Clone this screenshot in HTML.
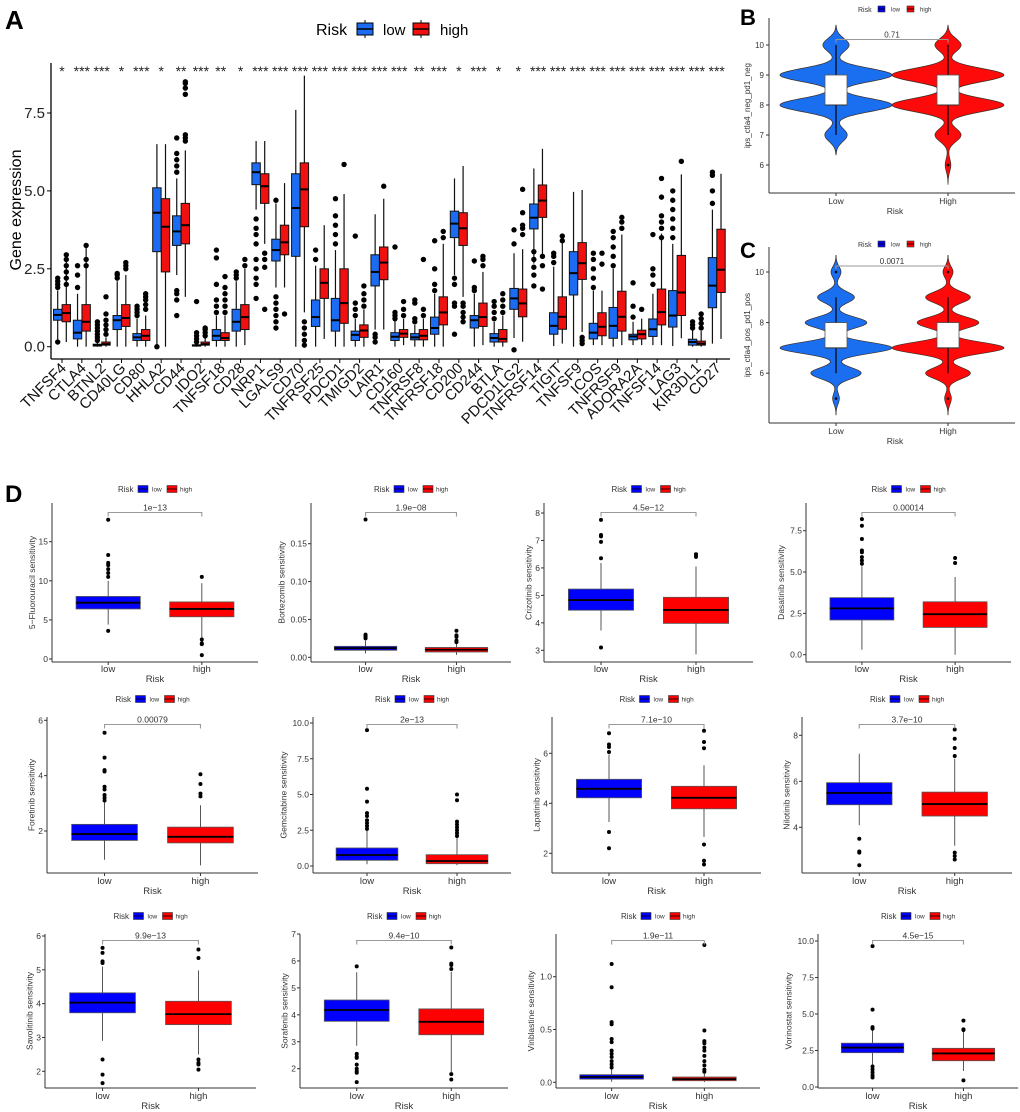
<!DOCTYPE html>
<html><head><meta charset="utf-8"><style>
body{margin:0;background:#fff}
svg{display:block;font-family:"Liberation Sans",Arial,sans-serif}
</style></head><body>
<svg id="fig" width="1020" height="1112" viewBox="0 0 1020 1112" xmlns="http://www.w3.org/2000/svg">
<rect width="1020" height="1112" fill="#fff"/>
<text x="5" y="29" font-size="26" font-weight="bold">A</text>
<text x="740" y="25" font-size="22" font-weight="bold">B</text>
<text x="740" y="258" font-size="22" font-weight="bold">C</text>
<text x="5" y="502" font-size="24" font-weight="bold">D</text>
<g id="pA"></g>
<g id="pB"></g>
<g id="pC"></g>
<g id="pD"></g>
</svg>
<script>
// ---------- Panel A data ----------
const genes=["TNFSF4","CTLA4","BTNL2","CD40LG","CD80","HHLA2","CD44","IDO2","TNFSF18","CD28","NRP1","LGALS9","CD70","TNFRSF25","PDCD1","TMIGD2","LAIR1","CD160","TNFRSF8","TNFRSF18","CD200","CD244","BTLA","PDCD1LG2","TNFRSF14","TIGIT","TNFSF9","ICOS","TNFRSF9","ADORA2A","TNFSF14","LAG3","KIR3DL1","CD27"];
const stars=["*","***","***","*","***","*","**","***","**","*","***","***","***","***","***","***","***","***","**","***","*","***","*","*","***","***","***","***","***","***","***","***","***","***"];
// [q1, median, q3, whiskerLow, whiskerHigh]
const lowBox=[[0.85,1.02,1.2,0.2,1.8],[0.25,0.45,0.85,0,1.7],[0.02,0.05,0.08,0,0.15],[0.55,0.85,1.0,0,2.1],[0.2,0.3,0.42,0,0.9],[3.05,4.3,5.1,0,6.5],[3.25,3.7,4.2,2.3,5.4],[0.02,0.04,0.06,0,0.1],[0.2,0.35,0.55,0,1.0],[0.5,0.8,1.2,0,2.1],[5.2,5.6,5.9,4.4,6.6],[2.75,3.1,3.45,1.9,4.6],[2.9,4.45,5.55,0,7.6],[0.65,0.95,1.5,0,2.6],[0.5,0.85,1.55,0,3.1],[0.2,0.38,0.5,0,0.9],[1.95,2.4,2.95,0.55,4.25],[0.2,0.32,0.45,0,0.85],[0.22,0.3,0.42,0,0.7],[0.4,0.6,0.95,0,1.7],[3.5,3.95,4.35,2.3,5.4],[0.6,0.85,1.0,0,1.7],[0.15,0.28,0.42,0,0.8],[1.2,1.55,1.87,0.28,3.0],[3.78,4.14,4.58,2.67,5.72],[0.4,0.67,1.09,0.02,2.57],[1.66,2.36,3.05,0,4.97],[0.25,0.45,0.75,0.05,1.8],[0.27,0.67,1.26,0,2.5],[0.22,0.33,0.4,0.05,0.8],[0.33,0.56,0.89,0.05,1.7],[0.63,1.0,1.8,0.02,3.3],[0.05,0.15,0.24,0,0.6],[1.25,1.96,2.86,0.1,4.4]];
const highBox=[[0.8,1.08,1.35,0.15,2.8],[0.5,0.8,1.35,0,3.2],[0.05,0.08,0.15,0,0.3],[0.65,0.92,1.35,0,2.3],[0.2,0.35,0.55,0,1.0],[2.4,3.85,4.75,0,6.5],[3.3,3.9,4.6,1.6,6.3],[0.05,0.08,0.15,0,0.3],[0.2,0.28,0.45,0,1.0],[0.55,0.95,1.35,0.05,2.5],[4.6,5.15,5.55,3.3,6.6],[2.95,3.35,3.9,1.9,5.25],[3.85,5.05,5.9,1.1,8.7],[1.55,2.05,2.5,0.25,3.9],[0.75,1.4,2.5,0,4.9],[0.3,0.52,0.7,0,1.2],[2.15,2.7,3.2,0.55,4.75],[0.3,0.42,0.55,0.05,0.9],[0.22,0.35,0.55,0,0.9],[0.7,1.1,1.6,0,3.3],[3.25,3.8,4.3,1.6,5.8],[0.65,0.95,1.4,0.05,2.4],[0.15,0.25,0.55,0,1.0],[0.96,1.39,1.85,0.16,3.13],[4.15,4.69,5.19,2.94,6.35],[0.56,0.96,1.6,0.1,3.32],[2.16,2.68,3.34,0.47,5.03],[0.35,0.64,1.09,0.05,1.8],[0.5,0.96,1.78,0.05,3.6],[0.25,0.4,0.53,0.05,0.9],[0.7,1.11,1.85,0.05,3.63],[1.0,1.74,2.93,0.27,5.53],[0.05,0.1,0.18,0,0.5],[1.74,2.47,3.77,0.25,5.55]];
const lowOut=[[0.15,1.9,2.0,2.1,2.2],[1.9,2.3,2.6],[0.2,0.3,0.4,0.5,0.6,0.7,0.8],[2.2,2.3,2.35],[1.0,1.1,1.2,1.3],[0],[1.0,1.5,1.7,1.8,5.6,5.8,6.0,6.2,6.7],[0.15,0.25,0.35,0.45,1.45],[1.1,1.3,1.5,2.0,2.85,3.1],[2.2,2.3,2.4],[1.55,2.0,2.2,2.5,2.8,3.3,3.6,3.8,4.1],[0.6,0.8,1.0,1.2,1.4,1.6,4.7],[],[2.8,3.1],[3.3,3.6,3.9,4.2,4.75],[1.0,1.2,1.4,3.55],[0.15,0.3,0.4],[0.9,1.0,1.1,3.2],[0.8,0.9,1.4,1.5],[1.8,2.0,2.5,3.4],[0.4,1.3,1.4,2.0,2.2],[1.8,1.9,2.75],[0.9,1.1,1.3,1.45],[-0.1,3.3,3.75],[1.95,2.3,2.55,2.8,3.05],[2.7,2.9,3.0],[],[1.9,2.2,2.5,2.8,3.0],[2.6,2.9,3.2,3.5,3.7],[0.95,1.3,2.05],[2.0,2.3,2.5,3.6],[3.5,3.8,4.1,4.4,4.7,5.0],[0.6,0.7,0.8],[4.6,5.0,5.5,5.6]];
const highOut=[[2.0,2.2,2.4,2.6,2.8,2.95],[2.6,2.8,3.25],[0.4,0.55,0.7,0.85,1.05,1.6],[2.5,2.6,2.7],[1.2,1.35,1.5,1.6,1.7],[],[6.6,6.7,6.8,8.1,8.3,8.45,8.5],[0.35,0.45,0.55,0.6],[1.1,1.3,1.5,1.7,1.9,2.25],[2.6,2.8],[1.2,2.55,2.8,3.0],[1.05],[0.05,0.2,0.4,0.6,0.8],[],[5.85],[1.3,1.5,1.7,1.95],[5.15],[1.0,1.2,1.45],[1.0,1.2,2.8],[3.5,3.7],[0.8,0.95,1.1,1.3,1.4],[2.6,2.8,2.9],[1.1,1.3,1.5,1.7],[3.6,3.8,3.9,4.3,5.05],[1.85,2.6,2.9],[3.4,3.55],[0.1,0.2,0.3],[2.65,3.0],[3.8,4.0,4.15],[1.2],[3.5,3.8,4.0,4.2,4.8,5.4],[5.95],[0.6,0.75,0.9,1.05],[]];
const aTicks=[0,2.5,5,7.5];
const aTickLabels=["0.0","2.5","5.0","7.5"];

// ---------- Panel B / C data ----------
const ipsScores=[5,6,7,8,9,10];
const bLowCounts=[0,0,12,60,60,14];
const bHighCounts=[0,3,14,60,60,14];
const cLowCounts=[6,45,100,55,33,9];
const cHighCounts=[6,40,100,55,40,9];
const bBoxLow=[8,8,9,7,10], bBoxHigh=[8,8,9,7,10];
const cBoxLow=[7,7,8,6,9], cBoxHigh=[7,7,8,6,9];
const bOutLow=[], bOutHigh=[6];
const cOutLow=[10,5], cOutHigh=[10,5];
const bTicks=[6,7,8,9,10], cTicks=[6,8,10];
const bP="0.71", cP="0.0071";

// ---------- Panel D data ----------
const drugNames=["5−Fluorouracil","Bortezomib","Crizotinib","Dasatinib","Foretinib","Gemcitabine","Lapatinib","Nilotinib","Savolitinib","Sorafenib","Vinblastine","Vorinostat"];
const drugP=["1e−13","1.9e−08","4.5e−12","0.00014","0.00079","2e−13","7.1e−10","3.7e−10","9.9e−13","9.4e−10","1.9e−11","4.5e−15"];
const drugLow=[[6.4,7.2,8.0,4.4,10],[0.0093,0.012,0.0145,0.005,0.022],[4.46,4.83,5.23,3.72,6.18],[2.1,2.8,3.45,0.3,5.35],[1.66,1.89,2.24,0.96,3.05],[0.4,0.77,1.26,0.12,2.5],[4.22,4.58,4.96,3.25,5.95],[4.98,5.49,5.94,4.09,7.2],[3.73,4.03,4.32,2.9,5.1],[3.76,4.18,4.55,2.85,5.58],[0.03,0.05,0.072,0.005,0.13],[2.35,2.7,3.0,1.46,3.9]];
const drugHigh=[[5.4,6.4,7.3,2.6,9.7],[0.007,0.010,0.013,0.003,0.019],[3.98,4.47,4.93,2.85,6.05],[1.65,2.45,3.2,0,4.7],[1.57,1.79,2.14,0.76,2.93],[0.16,0.35,0.79,0.05,1.98],[3.78,4.22,4.68,2.65,5.52],[4.49,5.01,5.53,3.2,6.98],[3.38,3.69,4.07,2.5,4.98],[3.26,3.74,4.22,1.88,5.6],[0.015,0.03,0.05,0.002,0.09],[1.8,2.3,2.65,1.1,3.8]];
const drugLowOut=[[17.8,13.3,12.3,12,11.5,11,10.5,3.6],[0.182,0.03,0.028,0.026,0.025],[7.75,7.2,7.15,6.95,6.35,3.1],[8.2,7.8,7.0,6.3,6.2,5.9,5.7,5.5],[5.55,4.65,4.2,4.15,3.6,3.5,3.3,3.2,3.1],[9.5,5.4,4.5,3.7,3.5,3.2,3.0,2.8,2.6],[6.8,6.35,6.25,6.05,2.85,2.2],[3.5,2.95,2.9,2.35],[5.65,5.5,5.25,5.2,2.35,1.9,1.65],[5.8,2.55,2.45,2.4,2.15,2.0,1.9,1.85,1.5],[1.12,0.9,0.57,0.55,0.41,0.38,0.3,0.27,0.24,0.2,0.17,0.14],[9.65,5.3,4.1,4.0,1.4,1.2,1.0,0.8,0.65]];
const drugHighOut=[[10.5,2.5,2.0,1.9,0.5],[0.035,0.029,0.027,0.022,0.02],[6.5,6.45,6.4],[5.85,5.55],[4.05,3.7,3.35,3.25],[5.0,4.6,3.1,2.9,2.7,2.5,2.3,2.1],[6.9,6.45,6.2,2.35,1.7,1.55],[8.25,7.85,7.45,7.1,2.9,2.75,2.6],[5.6,5.35,2.35,2.25,2.2,2.05],[6.5,5.9,5.85,5.7,1.8,1.6],[1.3,0.49,0.39,0.37,0.33,0.3,0.25,0.2,0.16,0.12,0.1],[4.55,3.95,3.9,0.45]];
const drugTicks=[[0,5,10,15],[0,0.05,0.10,0.15],[3,4,5,6,7,8],[0,2.5,5,7.5],[2,4,6],[0,2.5,5,7.5,10],[2,4,6],[4,6,8],[2,3,4,5,6],[2,3,4,5,6,7],[0,0.5,1.0],[0,2.5,5,7.5,10]];
const drugTickLabels=[["0","5","10","15"],["0.00","0.05","0.10","0.15"],["3","4","5","6","7","8"],["0.0","2.5","5.0","7.5"],["2","4","6"],["0.0","2.5","5.0","7.5","10.0"],["2","4","6"],["4","6","8"],["2","3","4","5","6"],["2","3","4","5","6","7"],["0.0","0.5","1.0"],["0.0","2.5","5.0","7.5","10.0"]];

// ---------- helpers ----------
const NS="http://www.w3.org/2000/svg";
function mk(parent,tag,attrs,text){const e=document.createElementNS(NS,tag);for(const k in attrs)e.setAttribute(k,attrs[k]);if(text!==undefined)e.textContent=text;parent.appendChild(e);return e;}

// ---------- Panel A ----------
(function(){
const g=document.getElementById('pA');
const y0=346.7, k=31.16, x0=62, dx=19.84;
const yA=v=>y0-v*k, xA=i=>x0+i*dx;
const lowC="#1b6cf2", highC="#f01010";
let e;
e=mk(g,'line',{x1:51,y1:63,x2:51,y2:359,stroke:'#000','stroke-width':1.3});

e=mk(g,'line',{x1:51,y1:359,x2:730,y2:359,stroke:'#000','stroke-width':1.3});

aTicks.forEach((t,i)=>{
 mk(g,'line',{x1:47,x2:51,y1:yA(t),y2:yA(t),stroke:'#000'});
 e=mk(g,'text',{x:45,y:yA(t)+5,'font-size':15,'text-anchor':'end',fill:'#222'},aTickLabels[i]);
 
});
e=mk(g,'text',{x:0,y:0,'font-size':16,'text-anchor':'middle',transform:'translate(21,210) rotate(-90)'},'Gene expression');

// legend
e=mk(g,'text',{x:316,y:35,'font-size':16},'Risk');
[[357,lowC,'low',383],[413,highC,'high',440]].forEach(L=>{
 mk(g,'line',{x1:L[0]+8,x2:L[0]+8,y1:20,y2:38,stroke:'#000'});
 e=mk(g,'rect',{x:L[0],y:23,width:16,height:12,fill:L[1],stroke:'#000','stroke-width':1});
 
 mk(g,'line',{x1:L[0],x2:L[0]+16,y1:29,y2:29,stroke:'#000','stroke-width':1.5});
 e=mk(g,'text',{x:L[3],y:35,'font-size':15},L[2]);
});
genes.forEach((gn,i)=>{
 const xc=xA(i);
 mk(g,'line',{x1:xc,x2:xc,y1:359,y2:363,stroke:'#000'});
 e=mk(g,'text',{x:0,y:0,'font-size':15,'text-anchor':'end',fill:'#111',transform:`translate(${xc+5},${369}) rotate(-45)`},gn);
 
 e=mk(g,'text',{x:xc,y:76,'font-size':14,'text-anchor':'middle',fill:'#222'},stars[i]);
 
 [[lowBox[i],lowOut[i],xc-4.3,lowC,'low'],[highBox[i],highOut[i],xc+4.3,highC,'high']].forEach(B=>{
  const s=B[0],cx=B[2],w=8.4;
  mk(g,'line',{x1:cx,x2:cx,y1:yA(s[4]),y2:yA(s[3]),stroke:'#111','stroke-width':1.2});
  e=mk(g,'rect',{x:cx-w/2,y:yA(s[2]),width:w,height:Math.max(0.8,yA(s[0])-yA(s[2])),fill:B[3],stroke:'#111','stroke-width':1});
  
  mk(g,'line',{x1:cx-w/2,x2:cx+w/2,y1:yA(s[1]),y2:yA(s[1]),stroke:'#000','stroke-width':2});
  B[1].forEach(v=>{e=mk(g,'circle',{cx:cx,cy:yA(v),r:2.7,fill:'#000'});});
 });
});
})();

// ---------- Panels B & C ----------
function violinPanel(gid,cfg){
 const g=document.getElementById(gid);
 const yf=v=>cfg.yTop+(cfg.vTop-v)*cfg.k;
 const xs=[836,948], cols=["#1a6ff0","#ff0a0a"], grp=['low','high'];
 let e;
 e=mk(g,'line',{x1:769,y1:cfg.axTop,x2:769,y2:cfg.axBot,stroke:'#333','stroke-width':1});
 e=mk(g,'line',{x1:769,y1:cfg.axBot,x2:1015,y2:cfg.axBot,stroke:'#333','stroke-width':1});
 cfg.ticks.forEach(t=>{mk(g,'line',{x1:766,x2:769,y1:yf(t),y2:yf(t),stroke:'#333'});
  e=mk(g,'text',{x:764,y:yf(t)+3,'font-size':8,'text-anchor':'end',fill:'#333'},String(t));});
 e=mk(g,'text',{x:0,y:0,'font-size':8,'text-anchor':'middle',fill:'#333',transform:`translate(${750},${(cfg.axTop+cfg.axBot)/2}) rotate(-90)`},cfg.ylab);
 ['Low','High'].forEach((l,i)=>{mk(g,'line',{x1:xs[i],x2:xs[i],y1:cfg.axBot,y2:cfg.axBot+3,stroke:'#333'});
  e=mk(g,'text',{x:xs[i],y:cfg.axBot+11,'font-size':8.5,'text-anchor':'middle',fill:'#333'},l);});
 e=mk(g,'text',{x:895,y:cfg.axBot+21,'font-size':8.5,'text-anchor':'middle',fill:'#333'},'Risk');
 // legend
 const ly=cfg.legY;
 e=mk(g,'text',{x:858,y:ly+3,'font-size':7,fill:'#333'},'Risk');
 [[878,'#0000ee','low',891],[907,'#ff0000','high',920]].forEach(L=>{
  e=mk(g,'rect',{x:L[0],y:ly-3,width:7,height:6,fill:L[1],stroke:'#333','stroke-width':0.6});
  mk(g,'line',{x1:L[0],x2:L[0]+7,y1:ly,y2:ly,stroke:'#000','stroke-width':0.8});
  e=mk(g,'text',{x:L[3],y:ly+2.5,'font-size':6,fill:'#333'},L[2]);
 });
 const bw=0.22;
 [cfg.lowCounts,cfg.highCounts].forEach((cnt,gi)=>{
  let mn=Infinity,mx=-Infinity;ipsScores.forEach((s,j)=>{if(cnt[j]>0){mn=Math.min(mn,s);mx=Math.max(mx,s);}});
  const lo=mn-3*bw,hi=mx+3*bw,N=160,pts=[];let dmax=0;
  for(let n=0;n<=N;n++){const v=lo+(hi-lo)*n/N;let d=0;ipsScores.forEach((s,j)=>{d+=cnt[j]*Math.exp(-0.5*((v-s)/bw)**2);});pts.push([v,d]);dmax=Math.max(dmax,d);}
  const W=56,cx=xs[gi];
  let p='M'+pts.map(q=>(cx+q[1]/dmax*W).toFixed(1)+','+yf(q[0]).toFixed(1)).join(' L');
  p+=' L'+pts.slice().reverse().map(q=>(cx-q[1]/dmax*W).toFixed(1)+','+yf(q[0]).toFixed(1)).join(' L')+' Z';
  e=mk(g,'path',{d:p,fill:cols[gi],stroke:'#3a2a20','stroke-width':0.7});
  const s=gi?cfg.boxHigh:cfg.boxLow;
  mk(g,'line',{x1:cx,x2:cx,y1:yf(s[4]),y2:yf(s[3]),stroke:'#000','stroke-width':1.2});
  e=mk(g,'rect',{x:cx-11,y:yf(s[2]),width:22,height:yf(s[0])-yf(s[2]),fill:'#fff',stroke:'#555','stroke-width':0.8});
  mk(g,'line',{x1:cx-11,x2:cx+11,y1:yf(s[1]),y2:yf(s[1]),stroke:'#333','stroke-width':1});
  (gi?cfg.outHigh:cfg.outLow).forEach(v=>{e=mk(g,'circle',{cx:cx,cy:yf(v),r:1.3,fill:'#000'});});
 });
 e=mk(g,'path',{d:`M${xs[0]},${cfg.brY+3} V${cfg.brY} H${xs[1]} V${cfg.brY+3}`,fill:'none',stroke:'#999','stroke-width':1});
 e=mk(g,'text',{x:892,y:cfg.brY-2,'font-size':8,'text-anchor':'middle',fill:'#333'},cfg.p);
}
violinPanel('pB',{tag:'b',yTop:45,vTop:10,k:30,axTop:18,axBot:193,ticks:bTicks,ylab:'ips_ctla4_neg_pd1_neg',legY:9,lowCounts:bLowCounts,highCounts:bHighCounts,boxLow:bBoxLow,boxHigh:bBoxHigh,outLow:bOutLow,outHigh:bOutHigh,brY:39.5,p:bP});
violinPanel('pC',{tag:'c',yTop:272,vTop:10,k:25.3,axTop:247,axBot:423,ticks:cTicks,ylab:'ips_ctla4_pos_pd1_pos',legY:244,lowCounts:cLowCounts,highCounts:cHighCounts,boxLow:cBoxLow,boxHigh:cBoxHigh,outLow:cOutLow,outHigh:cOutHigh,brY:266,p:cP});

// ---------- Panel D ----------
(function(){
const g=document.getElementById('pD');
// layout: [axisX, rightEnd, tickV1, tickY1, tickV2, tickY2]
const layout=[[52,258,0,659,15,541.7],[311,511,0,657.3,0.15,543.7],[544,753,3,650.3,8,513],[806,1011,0,654.7,7.5,530.7],
 [47,258,2,831,6,720.3],[313,511,0,866,10,723],[552,761,2,853.3,6,753.3],[802,1012,4,827.3,8,735.3],
 [45,256,2,1071.3,6,936],[300,508,2,1068.7,7,934],[556,760,0,1082.3,1.0,976.7],[818,1018,0,1087,10,941]];
const rows=[{top:503,bot:662,leg:489,xl:672,rt:682,br:512.5},{top:717,bot:873,leg:699,xl:884,rt:894,br:724.5},{top:934,bot:1088,leg:916,xl:1099,rt:1109,br:940.5}];
drugNames.forEach((dn,i)=>{
 const L=layout[i],R=rows[Math.floor(i/4)];
 const k=(L[3]-L[5])/(L[4]-L[2]);
 const yf=v=>L[3]-(v-L[2])*k;
 const ax=L[0],W=L[1]-L[0],xl=ax+W*0.6/2.2,xh=ax+W*1.6/2.2,bw=W*0.7/2.2*0.98;
 const slug=dn.toLowerCase().replace(/[^a-z0-9]+/g,'-');
 const sg=mk(g,'g',{});
 
 
 let e;
 e=mk(sg,'line',{x1:ax,x2:ax,y1:R.top,y2:R.bot,stroke:'#333','stroke-width':1});
 e=mk(sg,'line',{x1:ax,x2:L[1],y1:R.bot,y2:R.bot,stroke:'#333','stroke-width':1});
 let maxc=0;
 drugTicks[i].forEach((t,j)=>{mk(sg,'line',{x1:ax-3,x2:ax,y1:yf(t),y2:yf(t),stroke:'#333'});
  const lab=drugTickLabels[i][j];maxc=Math.max(maxc,lab.length);
  e=mk(sg,'text',{x:ax-4,y:yf(t)+3,'font-size':8.5,'text-anchor':'end',fill:'#333'},lab);});
 const tx=ax-8-maxc*4.6;
 e=mk(sg,'text',{x:0,y:0,'font-size':8.5,'text-anchor':'middle',fill:'#333',transform:`translate(${tx},${(R.top+R.bot)/2}) rotate(-90)`},dn+' sensitivity');
 [['low',xl],['high',xh]].forEach(X=>{mk(sg,'line',{x1:X[1],x2:X[1],y1:R.bot,y2:R.bot+3,stroke:'#333'});
  e=mk(sg,'text',{x:X[1],y:R.xl,'font-size':9.5,'text-anchor':'middle',fill:'#333'},X[0]);});
 e=mk(sg,'text',{x:(xl+xh)/2,y:R.rt,'font-size':9.5,'text-anchor':'middle',fill:'#333'},'Risk');
 // legend
 const lc=(ax+L[1])/2, ly=R.leg;
 e=mk(sg,'text',{x:lc-37,y:ly+3,'font-size':8,fill:'#333'},'Risk');
 [[lc-17,'#0000ff','low',lc-3],[lc+12,'#ff0000','high',lc+25]].forEach(K=>{
  e=mk(sg,'rect',{x:K[0],y:ly-3.5,width:10,height:7,fill:K[1],stroke:'#333','stroke-width':0.6});
  mk(sg,'line',{x1:K[0],x2:K[0]+10,y1:ly,y2:ly,stroke:'#000','stroke-width':0.8});
  e=mk(sg,'text',{x:K[3],y:ly+2.5,'font-size':6.5,fill:'#333'},K[2]);
 });
 [[drugLow[i],drugLowOut[i],xl,'#0000ff','low'],[drugHigh[i],drugHighOut[i],xh,'#ff0000','high']].forEach(B=>{
  const s=B[0],cx=B[2];
  mk(sg,'line',{x1:cx,x2:cx,y1:yf(s[4]),y2:yf(s[3]),stroke:'#444','stroke-width':0.9});
  e=mk(sg,'rect',{x:cx-bw/2,y:yf(s[2]),width:bw,height:Math.max(1,yf(s[0])-yf(s[2])),fill:B[3],stroke:'#555','stroke-width':0.8});
  
  mk(sg,'line',{x1:cx-bw/2,x2:cx+bw/2,y1:yf(s[1]),y2:yf(s[1]),stroke:'#000','stroke-width':1.8});
  B[1].forEach(v=>{e=mk(sg,'circle',{cx:cx,cy:yf(v),r:2,fill:'#000'});});
 });
 e=mk(sg,'path',{d:`M${xl},${R.br+4} V${R.br} H${xh} V${R.br+4}`,fill:'none',stroke:'#999','stroke-width':1.1});
 e=mk(sg,'text',{x:(xl+xh)/2,y:R.br-2,'font-size':8.5,'text-anchor':'middle',fill:'#333'},drugP[i]);
});
})();
</script>
</body></html>
